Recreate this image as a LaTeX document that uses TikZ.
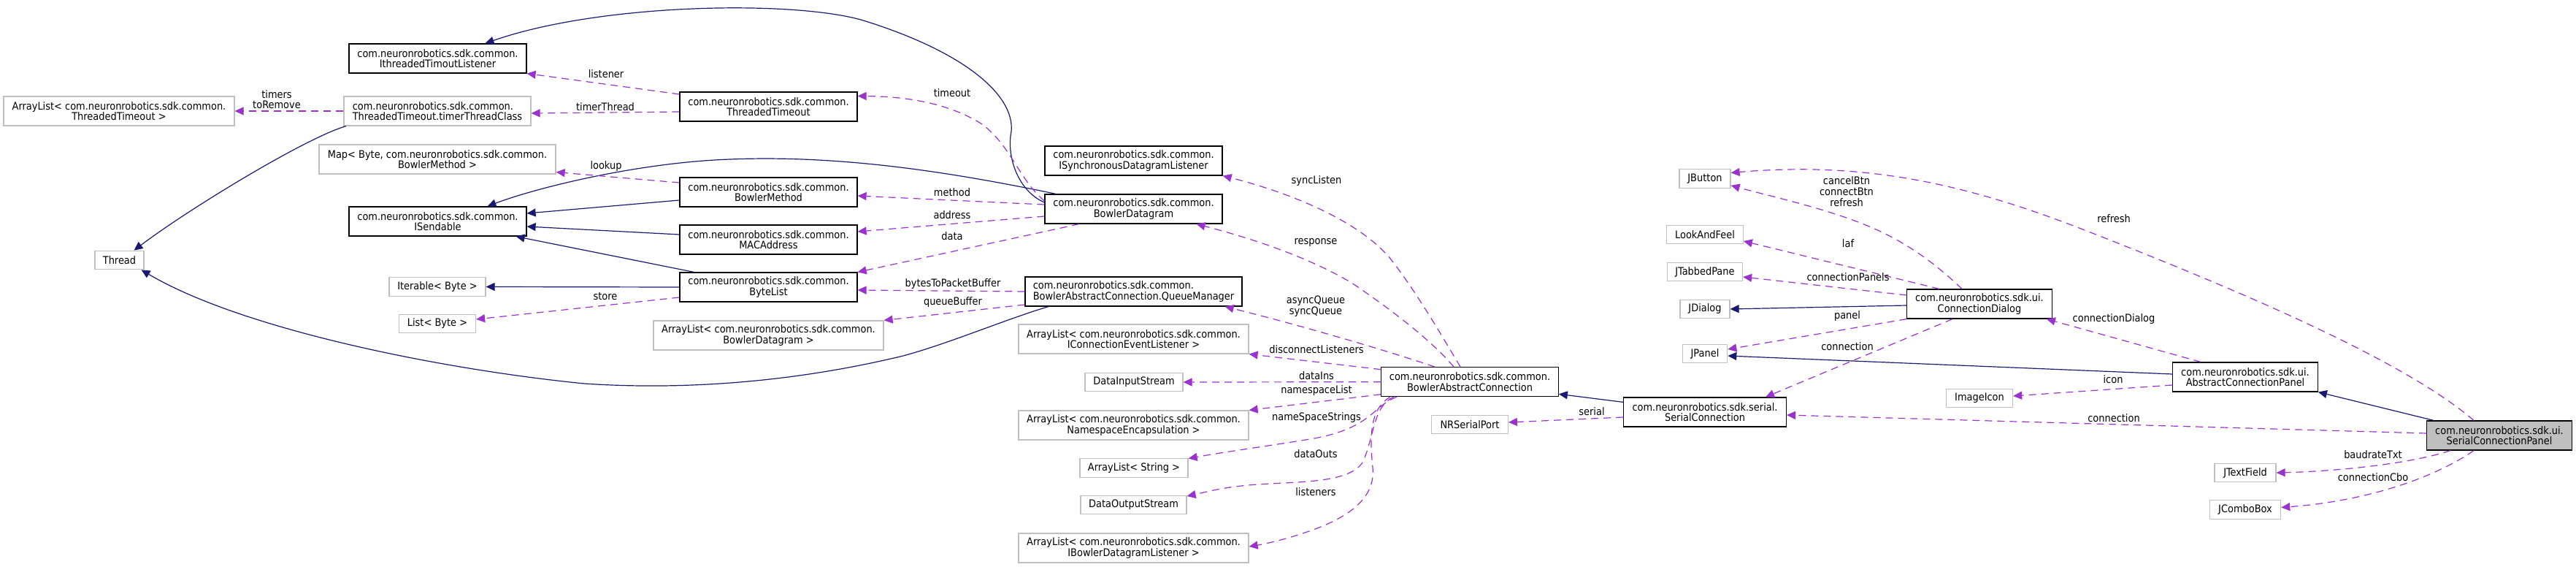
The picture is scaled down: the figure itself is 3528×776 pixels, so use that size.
\documentclass[tikz,border=0pt]{standalone}
\usepackage{fontspec}
\setmainfont{DejaVu Sans Condensed}
\usetikzlibrary{arrows.meta}
\definecolor{edgenavy}{HTML}{191970}
\definecolor{edgeorchid}{HTML}{9A32CD}
\definecolor{extgray}{HTML}{BFBFBF}
\definecolor{selgray}{HTML}{BFBFBF}

\begin{document}
\begin{tikzpicture}[x=1pt,y=-1pt,
    font=\fontsize{14.4}{14.7}\selectfont,
    cls/.style={draw=black,fill=white,line width=1.2pt,inner sep=0pt,align=center,minimum height=40pt},
    ext/.style={draw=extgray,fill=white,line width=1.2pt,inner sep=0pt,align=center,minimum height=40pt},
    one/.style={minimum height=25.5pt},
    inh/.style={color=edgenavy,line width=1.2pt,-{Triangle[length=12pt,width=11pt]}},
    use/.style={color=edgeorchid,line width=1.2pt,dash pattern=on 10pt off 7pt,-{Triangle[length=12pt,width=11pt]}},
    lbl/.style={inner sep=0pt,align=center}]
    \useasboundingbox (0,0) rectangle (3528,776);
    % Nodes
    \node (arrTT) at (163,152) [ext,minimum width=316pt] {ArrayList< com.neuronrobotics.sdk.common.\\ThreadedTimeout >};
    \node (thread) at (163.5,356) [ext,one,minimum width=67pt] {Thread};
    \node (itl) at (599.5,80) [cls,minimum width=243pt] {com.neuronrobotics.sdk.common.\\IthreadedTimoutListener};
    \node (ttc) at (599,152) [ext,align=left,minimum width=256pt] {com.neuronrobotics.sdk.common.\\ThreadedTimeout.timerThreadClass};
    \node (mapBM) at (599,218) [ext,minimum width=324pt] {Map< Byte, com.neuronrobotics.sdk.common.\\BowlerMethod >};
    \node (sendable) at (599.5,303) [cls,minimum width=243pt] {com.neuronrobotics.sdk.common.\\ISendable};
    \node (iterable) at (599,392.5) [ext,one,minimum width=132pt] {Iterable< Byte >};
    \node (listB) at (599,443) [ext,one,minimum width=105pt] {List< Byte >};
    \node (tt) at (1052.5,146) [cls,minimum width=243pt] {com.neuronrobotics.sdk.common.\\ThreadedTimeout};
    \node (bm) at (1052.5,263) [cls,minimum width=243pt] {com.neuronrobotics.sdk.common.\\BowlerMethod};
    \node (mac) at (1052.5,328) [cls,minimum width=243pt] {com.neuronrobotics.sdk.common.\\MACAddress};
    \node (bytelist) at (1052.5,393) [cls,minimum width=243pt] {com.neuronrobotics.sdk.common.\\ByteList};
    \node (arrBD) at (1052.5,459) [ext,minimum width=315pt] {ArrayList< com.neuronrobotics.sdk.common.\\BowlerDatagram >};
    \node (isdl) at (1552.5,220) [cls,minimum width=243pt] {com.neuronrobotics.sdk.common.\\ISynchronousDatagramListener};
    \node (bd) at (1552.5,286) [cls,minimum width=243pt] {com.neuronrobotics.sdk.common.\\BowlerDatagram};
    \node (qm) at (1552.5,399) [cls,align=left,minimum width=297pt] {com.neuronrobotics.sdk.common.\\BowlerAbstractConnection.QueueManager};
    \node (arrCEL) at (1552.5,464) [ext,minimum width=315pt] {ArrayList< com.neuronrobotics.sdk.common.\\IConnectionEventListener >};
    \node (dis) at (1553,523) [ext,one,minimum width=134pt] {DataInputStream};
    \node (arrNE) at (1552.5,582) [ext,minimum width=315pt] {ArrayList< com.neuronrobotics.sdk.common.\\NamespaceEncapsulation >};
    \node (arrStr) at (1553,640.5) [ext,one,minimum width=148pt] {ArrayList< String >};
    \node (dos) at (1552.5,691) [ext,one,minimum width=145pt] {DataOutputStream};
    \node (arrBDL) at (1552.5,750) [ext,minimum width=315pt] {ArrayList< com.neuronrobotics.sdk.common.\\IBowlerDatagramListener >};
    \node (bac) at (2013,522.7) [cls,minimum width=242.5pt] {com.neuronrobotics.sdk.common.\\BowlerAbstractConnection};
    \node (nrs) at (2013,581) [ext,one,minimum width=104.6pt] {NRSerialPort};
    \node (jbutton) at (2335,244.5) [ext,one,minimum width=70pt] {JButton};
    \node (laf) at (2335,321) [ext,one,minimum width=104.5pt] {LookAndFeel};
    \node (jtab) at (2335,372) [ext,one,minimum width=103pt] {JTabbedPane};
    \node (jdialog) at (2335,423) [ext,one,minimum width=68pt] {JDialog};
    \node (jpanel) at (2335,484) [ext,one,minimum width=61.5pt] {JPanel};
    \node (sc) at (2335,564) [cls,minimum width=222.7pt] {com.neuronrobotics.sdk.serial.\\SerialConnection};
    \node (cd) at (2711,416) [cls,minimum width=198.4pt] {com.neuronrobotics.sdk.ui.\\ConnectionDialog};
    \node (icon) at (2711,545) [ext,one,minimum width=91pt] {ImageIcon};
    \node (acp) at (3075,516) [cls,minimum width=198.6pt] {com.neuronrobotics.sdk.ui.\\AbstractConnectionPanel};
    \node (scp) at (3423,596) [cls,fill=selgray,minimum width=198.7pt] {com.neuronrobotics.sdk.ui.\\SerialConnectionPanel};
    \node (jtf) at (3075,647) [ext,one,minimum width=84pt] {JTextField};
    \node (jcb) at (3075,697.5) [ext,one,minimum width=97.3pt] {JComboBox};
    % Inheritance
    \draw[inh] ([xshift=-125pt]ttc.south) .. controls (420,188) and (260,285) .. ([xshift=20pt]thread.north);
    \draw[inh] ([xshift=-116.5pt]qm.south) .. controls (1380,436) and (1300,470) .. (1237,487)
        .. controls (1100,520) and (950,535) .. (800,525) .. controls (600,505) and (330,450) .. ([xshift=30pt]thread.south);
    \draw[inh] ([xshift=-106.5pt]bd.north) .. controls (1300,235) and (1150,212) .. (1000,218)
        .. controls (880,222) and (740,255) .. ([xshift=68pt]sendable.north);
    \path[inh] ([yshift=-11pt]bm.west) edge ([yshift=11pt]sendable.east);
    \path[inh] ([yshift=7pt]mac.west) edge ([yshift=-7pt]sendable.east);
    \path[inh] ([xshift=20pt]bytelist.north west) edge ([xshift=-15pt]sendable.south east);
    \path[inh] (bytelist.west) edge (iterable.east);
    \draw[inh] ([yshift=9pt]bd.west) .. controls (1395,262) and (1378,215) .. (1385,180)
        .. controls (1390,130) and (1320,70) .. (1179,27) .. controls (1080,0) and (820,5) .. ([xshift=65pt]itl.north);
    \path[inh] ([yshift=-7pt]sc.north west) edge ([yshift=4pt]bac.south east);
    \path[inh] ([yshift=-2pt]cd.west) edge (jdialog.east);
    \path[inh] ([yshift=4pt]acp.west) edge ([yshift=-3pt]jpanel.east);
    \path[inh] ([xshift=10pt]scp.north west) edge (acp.south east);
    % Members
    \path[use] (ttc.west) edge (arrTT.east);
    \path[use] ([yshift=17pt]tt.west) edge (itl.south east);
    \path[use] ([yshift=-7pt]tt.west) edge ([yshift=-3pt]ttc.east);
    \path[use] ([yshift=13pt]bm.west) edge ([yshift=3pt]mapBM.south east);
    \path[use] ([yshift=-14pt]bytelist.west) edge ([yshift=6pt]listB.east);
    \draw[use] ([yshift=11pt]bd.west) .. controls (1395,245) and (1385,200) .. (1345,170)
        .. controls (1290,135) and (1220,132) .. ([yshift=-6pt]tt.north east);
    \path[use] ([yshift=6pt]bd.west) edge ([yshift=-5pt]bm.east);
    \path[use] ([yshift=-10pt]bd.west) edge ([yshift=11pt]mac.east);
    \path[use] ([xshift=-74.5pt]bd.south) edge (bytelist.north east);
    \path[use] (qm.west) edge ([yshift=-4pt]bytelist.east);
    \path[use] ([yshift=-18pt]qm.west) edge (arrBD.north east);
    \draw[use] ([xshift=-13pt]bac.north) .. controls (1975,460) and (1940,400) .. (1905,355)
        .. controls (1860,300) and (1760,262) .. (isdl.south east);
    \draw[use] ([xshift=-22pt]bac.north) .. controls (1960,465) and (1900,420) .. (1851,387)
        .. controls (1780,345) and (1690,320) .. ([xshift=86pt]bd.south);
    \draw[use] ([xshift=-48pt]bac.north) .. controls (1900,480) and (1780,445) .. ([xshift=-24pt]qm.south east);
    \path[use] ([yshift=17pt]bac.west) edge (arrCEL.south east);
    \path[use] (bac.west) edge (dis.east);
    \path[use] ([yshift=-17pt]bac.west) edge (arrNE.north east);
    \draw[use] ([xshift=-100pt]bac.south) .. controls (1880,555) and (1880,585) .. (1800,600)
        .. controls (1740,610) and (1680,618) .. ([yshift=13pt]arrStr.east);
    \draw[use] ([xshift=-104pt]bac.south) .. controls (1880,555) and (1882,600) .. (1866,633)
        .. controls (1845,665) and (1760,658) .. (1700,665) .. controls (1670,668) and (1645,675) .. ([yshift=12pt]dos.east);
    \draw[use] ([xshift=-109pt]bac.south) .. controls (1875,560) and (1876,600) .. (1880,640)
        .. controls (1885,690) and (1830,715) .. (1784,730) .. controls (1760,738) and (1735,744) .. ([yshift=2pt]arrBDL.east);
    \path[use] ([yshift=-7pt]sc.west) edge ([yshift=3pt]nrs.east);
    \draw[use] ([xshift=-24pt]cd.north) .. controls (2660,370) and (2620,335) .. (2560,310)
        .. controls (2500,285) and (2430,270) .. ([yshift=4pt]jbutton.south east);
    \path[use] ([xshift=-55pt]cd.north) edge ([yshift=-9pt]laf.east);
    \path[use] ([yshift=12pt]cd.west) edge ([yshift=-7pt]jtab.east);
    \path[use] (cd.south west) edge ([yshift=6pt]jpanel.east);
    \path[use] ([xshift=-37pt]cd.south) edge ([xshift=83pt]sc.north);
    \path[use] ([xshift=-61pt]acp.north) edge ([xshift=-8pt]cd.south east);
    \path[use] ([yshift=-11pt]acp.west) edge ([yshift=3pt]icon.east);
    \draw[use] ([xshift=-35pt]scp.north) .. controls (3300,500) and (3100,410) .. (2850,313)
        .. controls (2700,255) and (2560,220) .. ([yshift=8pt]jbutton.east);
    \path[use] ([yshift=3pt]scp.west) edge ([yshift=-4pt]sc.east);
    \draw[use] ([xshift=-67pt]scp.south) .. controls (3300,635) and (3200,645) .. (jtf.east);
    \draw[use] ([xshift=-35pt]scp.south) .. controls (3340,650) and (3250,685) .. ([yshift=3pt]jcb.east);
    % Member names
    \node (lTimers) at (379,136) [lbl] {timers\\toRemove};
    \node (lListener) at (830,101) [lbl] {listener};
    \node (lTimerThread) at (829,146) [lbl] {timerThread};
    \node (lLookup) at (830,228) [lbl] {lookup};
    \node (lStore) at (829,406) [lbl] {store};
    \node (lTimeout) at (1304,127) [lbl] {timeout};
    \node (lMethod) at (1304,263) [lbl] {method};
    \node (lAddress) at (1304,294) [lbl] {address};
    \node (lData) at (1304,323) [lbl] {data};
    \node (lBytes) at (1305,389) [lbl] {bytesToPacketBuffer};
    \node (lQueueBuf) at (1305,414) [lbl] {queueBuffer};
    \node (lSyncListen) at (1803,248) [lbl] {syncListen};
    \node (lResponse) at (1802,332) [lbl] {response};
    \node (lQueues) at (1802,419) [lbl] {asyncQueue\\syncQueue};
    \node (lDisconnect) at (1803,478) [lbl] {disconnectListeners};
    \node (lDataIns) at (1803,514) [lbl] {dataIns};
    \node (lNsList) at (1803,535) [lbl] {namespaceList};
    \node (lNsStrings) at (1803,572) [lbl] {nameSpaceStrings};
    \node (lDataOuts) at (1802,621) [lbl] {dataOuts};
    \node (lListeners) at (1802,673) [lbl] {listeners};
    \node (lSerial) at (2180,563) [lbl] {serial};
    \node (lButtons) at (2529,262) [lbl] {cancelBtn\\connectBtn\\refresh};
    \node (lLaf) at (2531,333) [lbl] {laf};
    \node (lPanels) at (2531,379) [lbl] {connectionPanels};
    \node (lPanel) at (2530,433) [lbl] {panel};
    \node (lConnA) at (2530,474) [lbl] {connection};
    \node (lDialog) at (2895,437) [lbl] {connectionDialog};
    \node (lIcon) at (2894,519) [lbl] {icon};
    \node (lRefresh) at (2895,299) [lbl] {refresh};
    \node (lConnB) at (2895,572) [lbl] {connection};
    \node (lBaud) at (3250,622) [lbl] {baudrateTxt};
    \node (lCbo) at (3250,653) [lbl] {connectionCbo};
\end{tikzpicture}
\end{document}
